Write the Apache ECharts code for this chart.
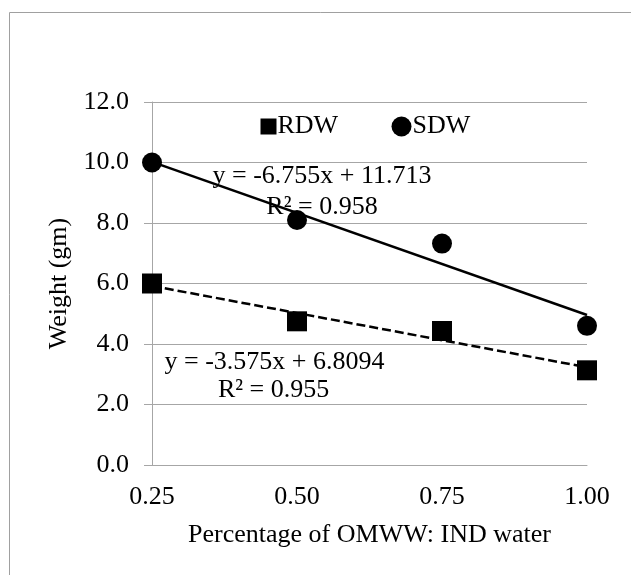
<!DOCTYPE html>
<html>
<head>
<meta charset="utf-8">
<script src="https://cdn.jsdelivr.net/npm/echarts@6/dist/echarts.min.js"></script>
<style>
html,body{margin:0;padding:0;background:#fff;}
#chart{width:631px;height:575px;}
</style>
</head>
<body>
<div id="chart"></div>
<script>
// ---- data ----
var xValues = [0.25, 0.50, 0.75, 1.00];
var rdwValues = [6.0, 4.75, 4.43, 3.13];
var sdwValues = [10.0, 8.1, 7.32, 4.6];
// trendline end points (x = 0.25 and x = 1.00)
var sdwTrendX = [0.25, 1.00];
var sdwTrendY = [10.02, 4.96];
var rdwTrendX = [0.25, 1.00];
var rdwTrendY = [5.92, 3.23];
var yTicks = { min: 0, max: 12, interval: 2 };
var xTicks = { min: 0.25, max: 1.00, interval: 0.25 };
var sdwEquation = ['y = -6.755x + 11.713', 'R² = 0.958'];
var rdwEquation = ['y = -3.575x + 6.8094', 'R² = 0.955'];
var seriesNames = ['RDW', 'SDW'];
var xTitle = 'Percentage of OMWW: IND water';
var yTitle = 'Weight (gm)';

function pairs(xs, ys) { return xs.map(function (x, i) { return [x, ys[i]]; }); }

var FONT = '"Liberation Serif", "Times New Roman", serif';
var GRID = '#a6a6a6';

var legendText = { fontFamily: FONT, fontSize: 26, color: '#000', padding: [0, 0, 0, -4] };

var chart = echarts.init(document.getElementById('chart'), null, { renderer: 'canvas' });
chart.setOption({
  animation: false,
  backgroundColor: '#fff',
  textStyle: { fontFamily: FONT },
  grid: { left: 152, right: 44, top: 102, bottom: 110, containLabel: false },
  legend: [
    {
      data: [{ name: seriesNames[0], icon: 'rect' }],
      left: 260.5, top: 113.5, padding: 0, itemWidth: 16, itemHeight: 16,
      textStyle: legendText, selectedMode: false
    },
    {
      data: [{ name: seriesNames[1], icon: 'circle' }],
      left: 391.5, top: 113.5, padding: 0, itemWidth: 20, itemHeight: 20,
      textStyle: legendText, selectedMode: false
    }
  ],
  xAxis: {
    type: 'value', min: xTicks.min, max: xTicks.max, interval: xTicks.interval,
    name: xTitle, nameLocation: 'middle', nameGap: 57,
    nameTextStyle: { fontFamily: FONT, fontSize: 26, color: '#000' },
    axisLine: { show: true, lineStyle: { color: GRID, width: 1 } },
    axisTick: { show: false },
    splitLine: { show: false },
    axisLabel: { fontFamily: FONT, fontSize: 26, color: '#000', margin: 19,
      formatter: function (v) { return v.toFixed(2); } }
  },
  yAxis: {
    type: 'value', min: yTicks.min, max: yTicks.max, interval: yTicks.interval,
    name: yTitle, nameLocation: 'middle', nameGap: 78, nameRotate: 90,
    nameTextStyle: { fontFamily: FONT, fontSize: 26, color: '#000' },
    axisLine: { show: true, lineStyle: { color: GRID, width: 1 } },
    axisTick: { show: true, inside: false, length: 8, lineStyle: { color: GRID, width: 1 } },
    splitLine: { show: true, lineStyle: { color: GRID, width: 1 } },
    axisLabel: { fontFamily: FONT, fontSize: 26, color: '#000', margin: 23,
      formatter: function (v) { return v.toFixed(1); } }
  },
  series: [
    {
      name: 'SDW trend', type: 'line', data: pairs(sdwTrendX, sdwTrendY),
      symbol: 'none', lineStyle: { color: '#000', width: 2.5, type: 'solid' }, z: 3
    },
    {
      name: 'RDW trend', type: 'line', data: pairs(rdwTrendX, rdwTrendY),
      symbol: 'none', lineStyle: { color: '#000', width: 2.5, type: [9, 4] }, z: 3
    },
    {
      name: seriesNames[0], type: 'scatter', data: pairs(xValues, rdwValues),
      symbol: 'rect', symbolSize: 20, itemStyle: { color: '#000', opacity: 1 }, z: 4
    },
    {
      name: seriesNames[1], type: 'scatter', data: pairs(xValues, sdwValues),
      symbol: 'circle', symbolSize: 20, itemStyle: { color: '#000', opacity: 1 }, z: 4
    }
  ],
  graphic: [
    { type: 'rect', shape: { x: 9.5, y: 12.5, width: 700, height: 700 },
      style: { fill: 'none', stroke: '#a0a0a0', lineWidth: 1 }, silent: true, z: -10 },
    { type: 'text', x: 322, y: 176.5, z: 10,
      style: { text: sdwEquation[0], font: '26px ' + FONT, fill: '#000', align: 'center', verticalAlign: 'middle' } },
    { type: 'text', x: 322, y: 206.8, z: 10,
      style: { text: sdwEquation[1], font: '26px ' + FONT, fill: '#000', align: 'center', verticalAlign: 'middle' } },
    { type: 'text', x: 274.5, y: 361.7, z: 10,
      style: { text: rdwEquation[0], font: '26px ' + FONT, fill: '#000', align: 'center', verticalAlign: 'middle' } },
    { type: 'text', x: 273.6, y: 390.2, z: 10,
      style: { text: rdwEquation[1], font: '26px ' + FONT, fill: '#000', align: 'center', verticalAlign: 'middle' } }
  ]
});
</script>
</body>
</html>
